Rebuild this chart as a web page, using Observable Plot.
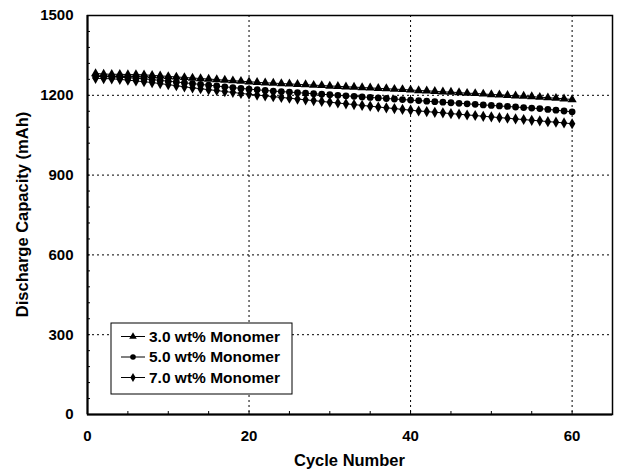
<!DOCTYPE html>
<html>
<head>
<meta charset="utf-8">
<script src="https://cdn.jsdelivr.net/npm/d3@7"></script>
<script src="https://cdn.jsdelivr.net/npm/@observablehq/plot@0.6"></script>
<style>
  html, body { margin: 0; padding: 0; background: #fff; }
  #chart { width: 621px; height: 469px; }
</style>
</head>
<body>
<div id="chart"></div>
<script>
const seriesNames = ["3.0 wt% Monomer", "5.0 wt% Monomer", "7.0 wt% Monomer"];
const seriesSymbols = ["triangle", "circle", "diamond"];
const cycles = d3.range(1, 61);

const cap30 = [
  1282,1280,1279,1279,1278,1278,1277,1275,1273,1271,
  1269,1267,1265,1263,1261,1259,1257,1255,1253,1251,
  1249,1247,1246,1244,1243,1241,1240,1238,1237,1235,
  1234,1232,1231,1229,1228,1226,1225,1223,1222,1220,
  1218,1217,1215,1213,1212,1210,1208,1207,1205,1203,
  1202,1200,1198,1197,1195,1193,1191,1189,1187,1184
];
const cap50 = [
  1271,1270,1269,1268,1266,1264,1262,1259,1256,1253,
  1250,1247,1244,1241,1238,1235,1232,1229,1226,1223,
  1221,1218,1216,1214,1212,1210,1208,1206,1204,1202,
  1200,1198,1196,1194,1192,1190,1188,1186,1184,1182,
  1180,1178,1176,1174,1172,1170,1168,1166,1164,1162,
  1160,1158,1156,1154,1152,1150,1147,1144,1141,1138
];
const cap70 = [
  1264,1263,1262,1260,1257,1254,1251,1248,1244,1240,
  1236,1232,1228,1225,1221,1218,1214,1211,1207,1204,
  1201,1198,1195,1192,1189,1186,1183,1180,1177,1174,
  1171,1168,1165,1162,1159,1156,1153,1150,1147,1144,
  1141,1139,1136,1134,1131,1129,1126,1124,1121,1119,
  1116,1114,1111,1109,1106,1104,1101,1099,1096,1093
];

const xTicks = [0, 20, 40, 60];
const yTicks = [0, 300, 600, 900, 1200, 1500];
const xGrid = [20, 40, 60];
const yGrid = [300, 600, 900, 1200];
const xMinor = d3.range(0, 66, 5);
const yMinor = d3.range(0, 1501, 60);
const xLabel = "Cycle Number";
const yLabel = "Discharge Capacity (mAh)";

const allSeries = [cap30, cap50, cap70];
const data = allSeries.flatMap((arr, s) =>
  arr.map((v, i) => ({cycle: cycles[i], cap: v, series: seriesNames[s], symbol: seriesSymbols[s]}))
);

const font = "'Liberation Sans', Arial, sans-serif";
const W = 621, H = 469;
const mL = 87, mR = 9, mT = 15, mB = 55;

const plot = Plot.plot({
  width: W,
  height: H,
  marginLeft: mL,
  marginRight: mR,
  marginTop: mT,
  marginBottom: mB,
  style: {fontFamily: font, background: "#fff", color: "#000", overflow: "visible"},
  x: {domain: [0, 65]},
  y: {domain: [0, 1500]},
  marks: [
    Plot.ruleX(xGrid, {stroke: "#000", strokeWidth: 1, strokeDasharray: "2,3"}),
    Plot.ruleY(yGrid, {stroke: "#000", strokeWidth: 1, strokeDasharray: "2,3"}),
    Plot.axisX(xMinor, {tickSize: -3, text: null, label: null, strokeWidth: 1}),
    Plot.axisY(yMinor, {tickSize: -3, text: null, label: null, strokeWidth: 1}),
    Plot.axisX(xTicks, {tickSize: 0, tickPadding: 16, fontSize: 15, fontWeight: "bold", label: null, tickFormat: d => String(d)}),
    Plot.axisY(yTicks, {tickSize: 0, tickPadding: 14, fontSize: 15, fontWeight: "bold", label: null, tickFormat: d => String(d)}),
    Plot.frame({stroke: "#000", strokeWidth: 1.5}),
    Plot.ruleX([0], {stroke: "#000", strokeWidth: 2}),
    Plot.ruleY([0], {stroke: "#000", strokeWidth: 2}),
    Plot.line(data, {x: "cycle", y: "cap", z: "series", stroke: "#000", strokeWidth: 1}),
    Plot.dot(data, {x: "cycle", y: "cap", symbol: "symbol", fill: "#000", stroke: "none", r: 3.4})
  ],
  symbol: {domain: seriesSymbols, range: seriesSymbols}
});

const svg = d3.select(plot);
const plotL = mL, plotR = W - mR, plotT = mT, plotB = H - mB;

// Axis titles
svg.append("text")
  .attr("x", (plotL + plotR) / 2).attr("y", plotB + 46)
  .attr("text-anchor", "middle").attr("dy", "0.35em")
  .attr("font-family", font).attr("font-size", 16.5).attr("font-weight", "bold")
  .attr("fill", "#000").text(xLabel);
svg.append("text")
  .attr("transform", `translate(22,${(plotT + plotB) / 2}) rotate(-90)`)
  .attr("text-anchor", "middle").attr("dy", "0.35em")
  .attr("font-family", font).attr("font-size", 16.5).attr("font-weight", "bold")
  .attr("fill", "#000").text(yLabel);

// Legend drawn inside the plot frame
const lg = svg.append("g").attr("transform", "translate(111,323)");
lg.append("rect").attr("width", 181).attr("height", 71)
  .attr("fill", "#fff").attr("stroke", "#000").attr("stroke-width", 1);
const symMap = {triangle: d3.symbolTriangle, circle: d3.symbolCircle, diamond: d3.symbolDiamond};
seriesNames.forEach((name, i) => {
  const cy = 13.5 + i * 20.5;
  lg.append("line").attr("x1", 10).attr("x2", 34).attr("y1", cy).attr("y2", cy)
    .attr("stroke", "#000").attr("stroke-width", 1);
  lg.append("path").attr("transform", `translate(22,${cy})`)
    .attr("d", d3.symbol(symMap[seriesSymbols[i]], 2.8 * 2.8 * Math.PI)())
    .attr("fill", "#000");
  lg.append("text").attr("x", 38).attr("y", cy).attr("dy", "0.35em")
    .attr("text-anchor", "start")
    .attr("font-family", font).attr("font-size", 15.5).attr("font-weight", "bold")
    .attr("fill", "#000").text(name);
});

document.getElementById("chart").appendChild(plot);
</script>
</body>
</html>
